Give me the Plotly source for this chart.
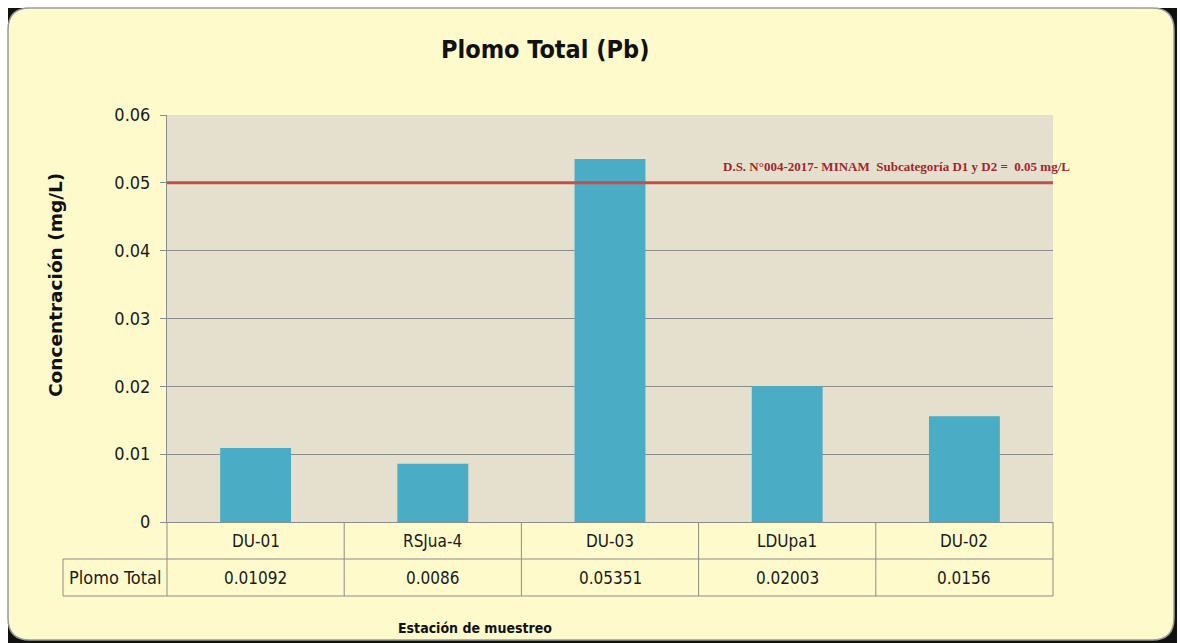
import plotly.graph_objects as go

categories = ["DU-01", "RSJua-4", "DU-03", "LDUpa1", "DU-02"]
values = [0.01092, 0.0086, 0.05351, 0.02003, 0.0156]
value_labels = ["0.01092", "0.0086", "0.05351", "0.02003", "0.0156"]
series_name = "Plomo Total"
limit_value = 0.05
limit_label = "D.S. N°004-2017- MINAM  Subcategoría D1 y D2 =  0.05 mg/L"
title_text = "Plomo Total (Pb)"
y_title = "Concentración (mg/L)"
x_title = "Estación de muestreo"

W, H = 1180, 643
L, R, T, B = 167, 127, 115, 121
PW, PH = W - L - R, H - T - B


def px(x):
    return (x - L) / PW


def py(y):
    return (H - B - y) / PH


NARROW = "DejaVu Sans Condensed, Liberation Sans Narrow, Arial Narrow, Roboto, sans-serif"
GRID = "#8c8c8c"

fig = go.Figure()
fig.add_trace(go.Bar(x=categories, y=values, name=series_name,
                     marker=dict(color="#4bacc6", line=dict(width=0)),
                     width=0.4, showlegend=False))

shapes = []
shapes.append(dict(type="rect", xref="paper", yref="paper", layer="below",
                   x0=px(8), x1=px(1177), y0=py(643), y1=py(8),
                   fillcolor="#111111", line=dict(width=0)))
r = 22
x0, x1, y0, y1 = 8, 1174, 8, 640
path = (f"M {px(x0 + r)},{py(y0)} L {px(x1 - r)},{py(y0)} "
        f"Q {px(x1)},{py(y0)} {px(x1)},{py(y0 + r)} "
        f"L {px(x1)},{py(y1 - r)} Q {px(x1)},{py(y1)} {px(x1 - r)},{py(y1)} "
        f"L {px(x0 + r)},{py(y1)} Q {px(x0)},{py(y1)} {px(x0)},{py(y1 - r)} "
        f"L {px(x0)},{py(y0 + r)} Q {px(x0)},{py(y0)} {px(x0 + r)},{py(y0)} Z")
shapes.append(dict(type="path", path=path, xref="paper", yref="paper", layer="below",
                   fillcolor="#fffacc", line=dict(color="#9a9a9a", width=1.5)))
shapes.append(dict(type="rect", xref="paper", yref="paper", layer="below",
                   x0=0, x1=1, y0=0, y1=1, fillcolor="#e5dfcd", line=dict(width=0)))
shapes.append(dict(type="line", xref="paper", yref="y", x0=0, x1=1,
                   y0=limit_value, y1=limit_value, line=dict(color="#c0504d", width=3)))

row1, row2 = py(559), py(596)
left_cell = px(63)
tcol = "#8c8c8c"
shapes.append(dict(type="line", xref="paper", yref="paper", x0=left_cell, x1=1, y0=row1, y1=row1,
                   line=dict(color=tcol, width=1)))
shapes.append(dict(type="line", xref="paper", yref="paper", x0=left_cell, x1=1, y0=row2, y1=row2,
                   line=dict(color=tcol, width=1)))
shapes.append(dict(type="line", xref="paper", yref="paper", x0=left_cell, x1=left_cell, y0=row2, y1=row1,
                   line=dict(color=tcol, width=1)))
for i in range(len(categories) + 1):
    xb = i / len(categories)
    shapes.append(dict(type="line", xref="paper", yref="paper", x0=xb, x1=xb, y0=row2, y1=0,
                       line=dict(color=tcol, width=1)))

TXT = dict(family=NARROW, size=17, color="#1a1a1a")
annotations = []
for cat, lab in zip(categories, value_labels):
    annotations.append(dict(x=cat, xref="x", y=(0 + row1) / 2, yref="paper", text=cat,
                            xanchor="center", yanchor="middle", showarrow=False, font=TXT))
    annotations.append(dict(x=cat, xref="x", y=(row1 + row2) / 2, yref="paper", text=lab,
                            xanchor="center", yanchor="middle", showarrow=False, font=TXT))
annotations.append(dict(x=(left_cell + 0) / 2, xref="paper", y=(row1 + row2) / 2, yref="paper",
                        text=series_name, xanchor="center", yanchor="middle", showarrow=False,
                        font=dict(family=NARROW, size=18, color="#1a1a1a")))
annotations.append(dict(x=px(1072), xref="paper", xanchor="right", y=py(166), yref="paper",
                        yanchor="middle", text=f"<b>{limit_label}</b>", showarrow=False,
                        font=dict(family="Liberation Serif, Times New Roman, serif", size=13,
                                  color="#a0282c")))
annotations.append(dict(x=px(545), xref="paper", y=py(50), yref="paper", xanchor="center",
                        yanchor="middle", text=f"<b>{title_text}</b>", showarrow=False,
                        font=dict(family=NARROW, size=25, color="#111111")))
annotations.append(dict(x=px(55), xref="paper", y=py(285), yref="paper", textangle=-90,
                        xanchor="center", yanchor="middle",
                        text=f"<b>{y_title}</b>", showarrow=False,
                        font=dict(family="DejaVu Sans, Verdana, sans-serif", size=18.5, color="#111111")))
annotations.append(dict(x=px(475), xref="paper", y=py(628), yref="paper", xanchor="center",
                        yanchor="middle", text=f"<b>{x_title}</b>", showarrow=False,
                        font=dict(family=NARROW, size=14, color="#111111")))

fig.update_layout(
    width=W, height=H, autosize=False,
    margin=dict(l=L, r=R, t=T, b=B, pad=0),
    paper_bgcolor="#ffffff", plot_bgcolor="rgba(0,0,0,0)",
    shapes=shapes, annotations=annotations,
    bargap=0.6,
    xaxis=dict(type="category", range=[-0.5, 4.5], showticklabels=False, showgrid=False,
               showline=True, linecolor=GRID, linewidth=1, ticks="", zeroline=False,
               fixedrange=True),
    yaxis=dict(range=[0, 0.06], dtick=0.01, tick0=0, showgrid=True, gridcolor=GRID, gridwidth=1,
               showline=True, linecolor=GRID, linewidth=1, ticks="outside", ticklen=6,
               tickcolor=GRID, zeroline=False, ticklabelstandoff=6,
               tickfont=dict(family=NARROW, size=18, color="#1a1a1a"), fixedrange=True),
)

fig.write_html("out.html")
